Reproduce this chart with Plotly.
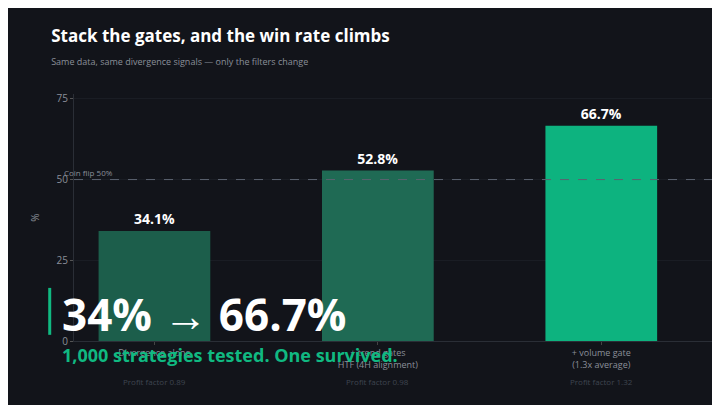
import plotly.graph_objects as go

stages = ["Divergence alone", "+ trend gates<br>HTF (4H alignment)", "+ volume gate<br>(1.3x average)"]
win_rate = [34.1, 52.8, 66.7]
profit_factor = [0.89, 0.98, 1.32]
bar_colors = ["#1c5e4b", "#1f6a54", "#0db37f"]
y_ticks = [0, 25, 50, 75]

BG = "#12141a"
fig = go.Figure(go.Bar(
    x=stages, y=win_rate, width=0.5,
    marker=dict(color=bar_colors, line=dict(width=0)),
    text=[f"<b>{v}%</b>" for v in win_rate], textposition="outside",
    textfont=dict(color="#ffffff", size=14, family="Open Sans"),
    cliponaxis=False,
))
fig.add_hline(y=50, line=dict(color="#5b6270", dash="dash", width=1))
fig.add_annotation(x=0, xref="paper", y=50, yref="y", text="Coin flip 50%",
                   showarrow=False, xanchor="left", yanchor="bottom", xshift=-12,
                   font=dict(size=8, color="#8a8f99"))
for s, pf in zip(stages, profit_factor):
    fig.add_annotation(x=s, y=0, yref="paper", yshift=-48, text=f"Profit factor {pf:.2f}",
                       showarrow=False, font=dict(size=8, color="#3f4550"))

# overlay caption
fig.add_shape(type="line", xref="paper", yref="paper", x0=-0.038, x1=-0.038,
              y0=0.215, y1=0.025, line=dict(color="#10b981", width=3))
fig.add_annotation(xref="paper", yref="paper", x=-0.022, y=0.24, text="<b>34% → 66.7%</b>",
                   showarrow=False, xanchor="left", yanchor="top",
                   font=dict(size=44, color="#ffffff", family="Open Sans"))
fig.add_annotation(xref="paper", yref="paper", x=-0.022, y=0.0, text="<b>1,000 strategies tested. One survived.</b>",
                   showarrow=False, xanchor="left", yanchor="top",
                   font=dict(size=18, color="#10b981", family="Open Sans"))

fig.update_layout(
    width=720, height=405, paper_bgcolor=BG, plot_bgcolor=BG,
    margin=dict(l=66, r=15, t=86, b=72),
    font=dict(family="Open Sans", color="#8a8f99", size=10),
    title=dict(text="<b>Stack the gates, and the win rate climbs</b><br>"
                    "<span style='font-size:9px;color:#8a8f99'>Same data, same divergence signals — only the filters change</span>",
               x=0.06, xanchor="left", y=0.915, yanchor="top",
               font=dict(size=17, color="#ffffff")),
    showlegend=False,
)
fig.update_yaxes(range=[0, 76.5], tickvals=y_ticks, gridcolor="#1a1d24", zeroline=False,
                 showline=True, linecolor="#2a2e36", ticks="outside", ticklen=3, tickcolor="#555",
                 title=dict(text="%", font=dict(size=10)))
fig.update_xaxes(range=[-0.36, 2.5], showline=True, linecolor="#2a2e36", ticks="outside", ticklen=3,
                 tickfont=dict(size=9, color="#8a8f99"))
fig.write_html("out.html")
